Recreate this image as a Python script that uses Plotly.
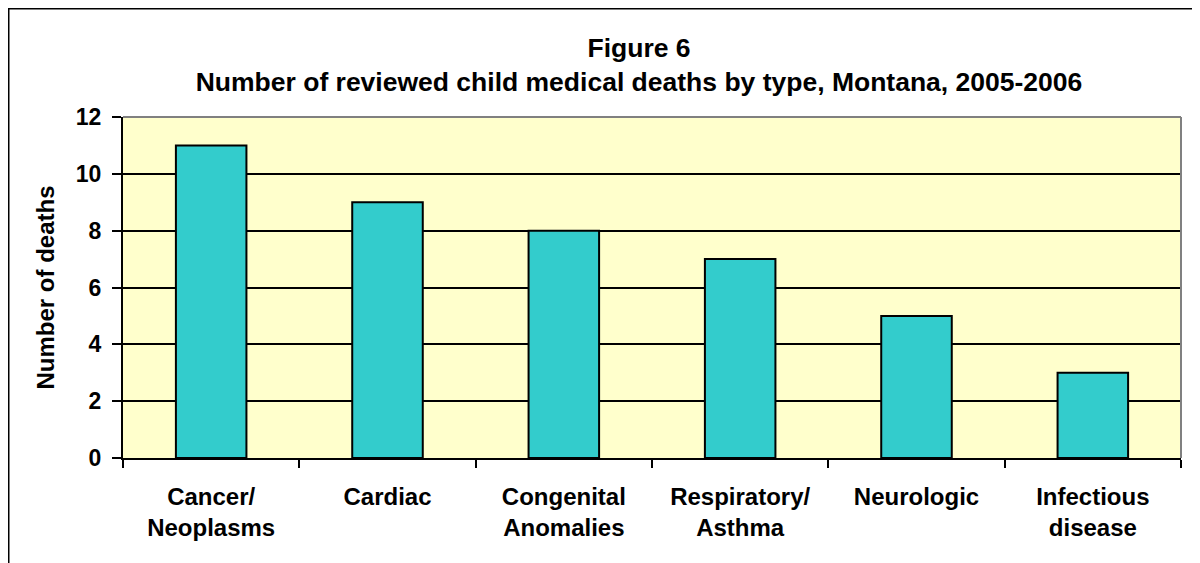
import plotly.graph_objects as go

categories = ["Cancer/<br>Neoplasms", "Cardiac", "Congenital<br>Anomalies",
              "Respiratory/<br>Asthma", "Neurologic", "Infectious<br>disease"]
deaths = [11, 9, 8, 7, 5, 3]
y_ticks = [0, 2, 4, 6, 8, 10, 12]

# page body has an 8px margin, so the figure is drawn 8px in from the window edge
W, H = 1192, 555
L, T = 115, 109
R, B = W - 1173, H - 450
pw, ph = W - L - R, H - T - B

FONT = "Liberation Sans, Arial, sans-serif"

fig = go.Figure(go.Bar(
    x=categories, y=deaths,
    marker=dict(color="#33CCCC", line=dict(color="black", width=2)),
    width=0.4,
))

fig.update_layout(
    width=W, height=H,
    margin=dict(l=L, r=R, t=T, b=B),
    paper_bgcolor="white",
    plot_bgcolor="#FFFFCC",
    showlegend=False,
    font=dict(family=FONT, size=22, color="black"),
    title=dict(
        text="Figure 6<br>Number of reviewed child medical deaths by type, Montana, 2005-2006",
        x=631 / W, xanchor="center", xref="container",
        y=1 - 48.5 / H, yanchor="middle",
        font=dict(family=FONT, size=26.5, color="black", weight="bold"),
    ),
)

fig.update_xaxes(
    type="category",
    tickson="boundaries",
    ticks="outside", ticklen=8, tickwidth=2, tickcolor="black",
    ticklabelstandoff=16,
    showline=True, linecolor="black", linewidth=2,
    showgrid=False,
    tickfont=dict(family=FONT, size=24, color="black", weight="bold"),
)
fig.update_yaxes(
    range=[0, 12], tickvals=y_ticks,
    ticks="outside", ticklen=9, tickwidth=2, tickcolor="black",
    ticklabelstandoff=6,
    showline=True, linecolor="black", linewidth=2,
    showgrid=True, gridcolor="black", gridwidth=2,
    zeroline=False,
    tickfont=dict(family=FONT, size=23, color="black", weight="bold"),
    title=dict(text="Number of deaths", font=dict(family=FONT, size=24, color="black", weight="bold"), standoff=14),
)

# gray plot-area border on top and right
fig.add_shape(type="line", xref="paper", yref="paper", x0=0, x1=1, y0=1, y1=1,
              line=dict(color="#808080", width=2))
fig.add_shape(type="line", xref="paper", yref="paper", x0=1, x1=1, y0=0, y1=1,
              line=dict(color="#808080", width=2))

# outer chart border (left and top visible)
fig.add_shape(type="rect", xref="paper", yref="paper",
              x0=(0.5 - L) / pw, x1=(W + 20 - L) / pw,
              y0=-(H + 20 - (T + ph)) / ph, y1=(T + ph - 0.5) / ph,
              line=dict(color="black", width=2), fillcolor="rgba(0,0,0,0)", layer="below")

fig.write_html("out.html")
